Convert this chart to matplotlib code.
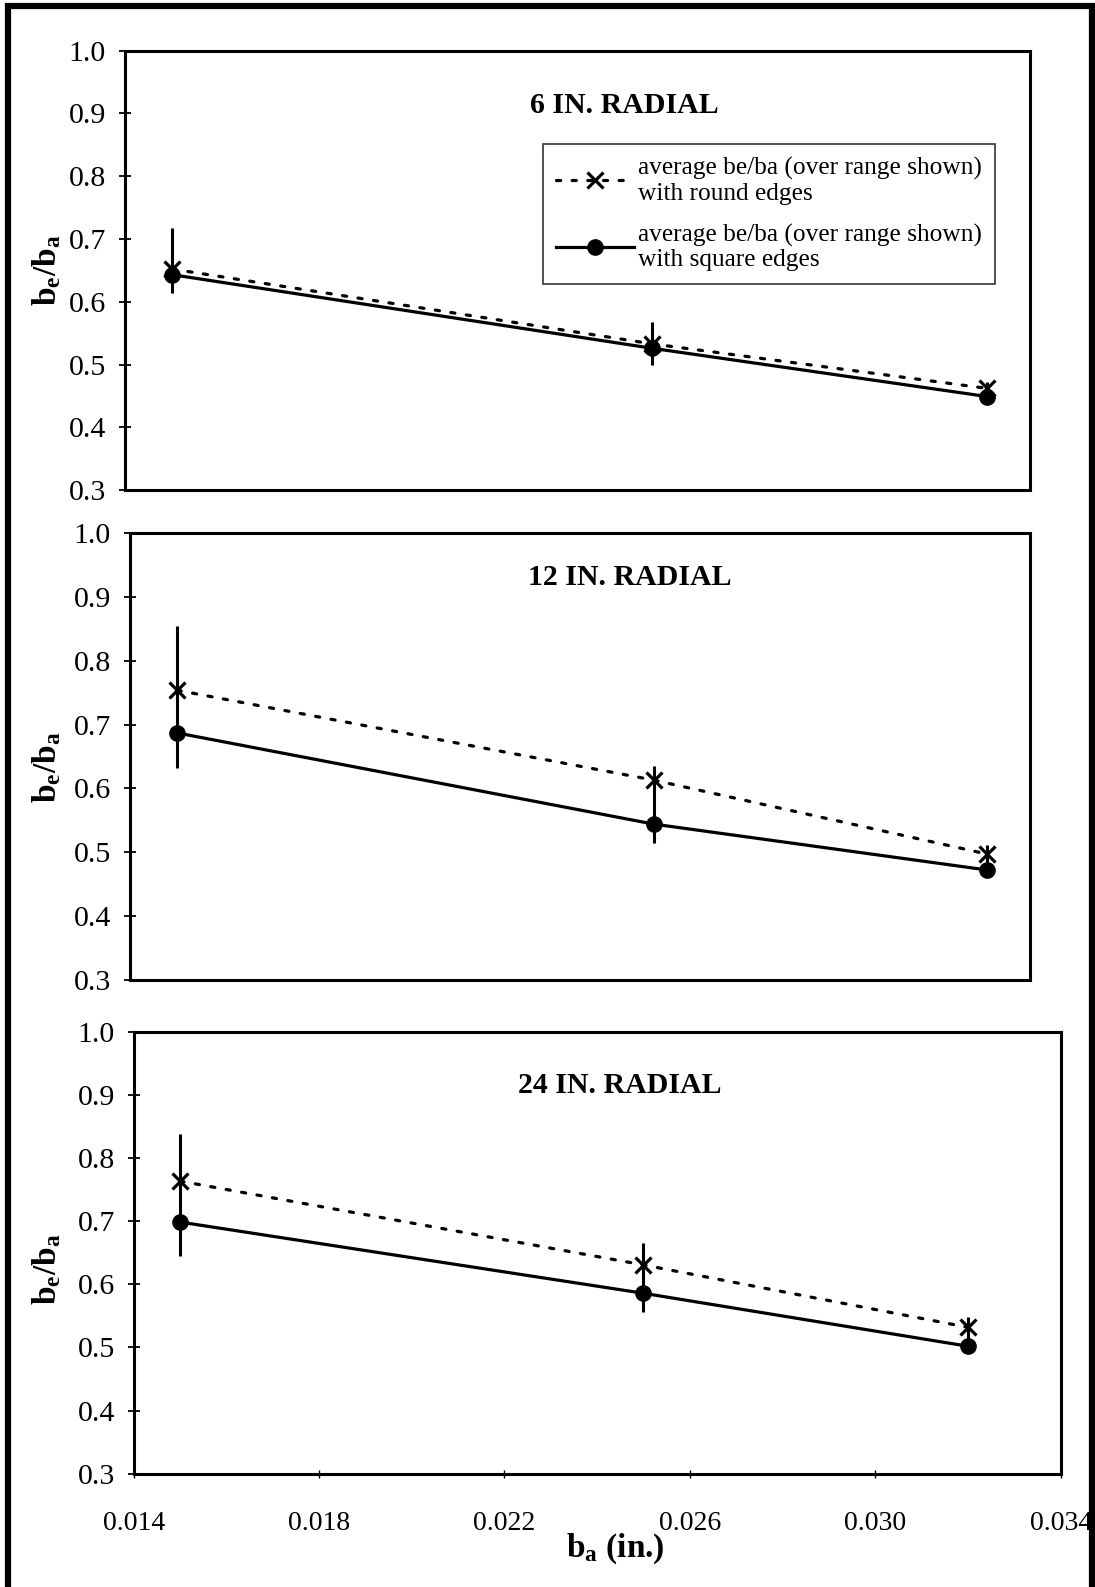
import matplotlib
matplotlib.use("Agg")
import matplotlib.pyplot as plt
from matplotlib.patches import Rectangle

plt.rcParams['font.family'] = ['Liberation Serif', 'DejaVu Serif']
plt.rcParams['mathtext.fontset'] = 'custom'
plt.rcParams['mathtext.rm'] = 'Liberation Serif'
plt.rcParams['mathtext.bf'] = 'Liberation Serif:bold'

# data
b_a = [0.015, 0.025, 0.032]
titles = ['6 IN. RADIAL', '12 IN. RADIAL', '24 IN. RADIAL']
round_6 = [0.652, 0.533, 0.462]
square_6 = [0.643, 0.526, 0.449]
bar_lo_6 = [0.614, 0.499, 0.443]
bar_hi_6 = [0.717, 0.567, 0.472]
round_12 = [0.754, 0.613, 0.497]
square_12 = [0.687, 0.544, 0.472]
bar_lo_12 = [0.632, 0.514, 0.462]
bar_hi_12 = [0.855, 0.635, 0.512]
round_24 = [0.764, 0.631, 0.532]
square_24 = [0.699, 0.586, 0.502]
bar_lo_24 = [0.645, 0.556, 0.492]
bar_hi_24 = [0.838, 0.666, 0.548]
yticks = [0.3, 0.4, 0.5, 0.6, 0.7, 0.8, 0.9, 1.0]
xticks = [0.014, 0.018, 0.022, 0.026, 0.030, 0.034]

fig = plt.figure(figsize=(10.95, 15.87), dpi=100)

rounds = [round_6, round_12, round_24]
squares = [square_6, square_12, square_24]
lows = [bar_lo_6, bar_lo_12, bar_lo_24]
highs = [bar_hi_6, bar_hi_12, bar_hi_24]
rects = [[0.1137, 0.6912, 0.827, 0.2769],
         [0.1183, 0.3827, 0.8224, 0.2812],
         [0.122, 0.0715, 0.8466, 0.278]]
title_pos = [(0.552, 0.874), (0.555, 0.902), (0.524, 0.88)]
ylabel_y = [0.83, 0.5167, 0.20]
dotted = (0, (1.3, 3.6))

for i in range(3):
    ax = fig.add_axes(rects[i])
    ax.vlines(b_a, lows[i], highs[i], color='black', lw=2.2)
    ax.plot(b_a, rounds[i], color='black', lw=2.3, linestyle=dotted,
            marker='x', ms=11, mew=2.3, dash_capstyle='round',
            label='average be/ba (over range shown)\nwith round edges')
    ax.plot(b_a, squares[i], color='black', lw=2.3, marker='o', ms=11,
            label='average be/ba (over range shown)\nwith square edges')
    ax.set_ylim(0.3, 1.0)
    ax.set_yticks(yticks)
    ax.set_yticklabels(['%.1f' % v for v in yticks], fontsize=21.5)
    if i < 2:
        ax.set_xlim(0.014, 0.0329)
        ax.set_xticks([])
    else:
        ax.set_xlim(0.014, 0.034)
        ax.set_xticks(xticks)
        ax.set_xticklabels(['%.3f' % v for v in xticks], fontsize=20)
        ax.tick_params(axis='x', direction='inout', length=6, width=1, pad=24)
    ax.tick_params(axis='y', direction='inout', length=9, width=1.3, pad=9)
    for s in ax.spines.values():
        s.set_linewidth(2.2)
    ax.text(title_pos[i][0], title_pos[i][1], titles[i], transform=ax.transAxes,
            ha='center', va='center', fontsize=21.5, fontweight='bold')
    fig.text(0.0425, ylabel_y[i], r'$\mathbf{b_e/b_a}$', rotation=90,
             ha='center', va='center', fontsize=24)
    if i == 0:
        leg = ax.legend(loc='upper left', bbox_to_anchor=(0.462, 0.787),
                        fontsize=18.3, frameon=True, fancybox=False,
                        handlelength=3.1, handletextpad=0.15, borderpad=0.5,
                        labelspacing=0.75, borderaxespad=0)
        for t in leg.get_texts():
            t.set_linespacing(1.15)
        leg.get_frame().set_edgecolor('black')
        leg.get_frame().set_linewidth(1.2)

fig.text(0.562, 0.024, r'$\mathbf{b_a}$' + ' (in.)', ha='center', va='center',
         fontsize=24, fontweight='bold')

fig.patches.append(Rectangle((0.0075, -0.01), 0.99, 1.0065, transform=fig.transFigure,
                             fill=False, edgecolor='black', lw=4.5))

fig.savefig('out.png', dpi=100)
